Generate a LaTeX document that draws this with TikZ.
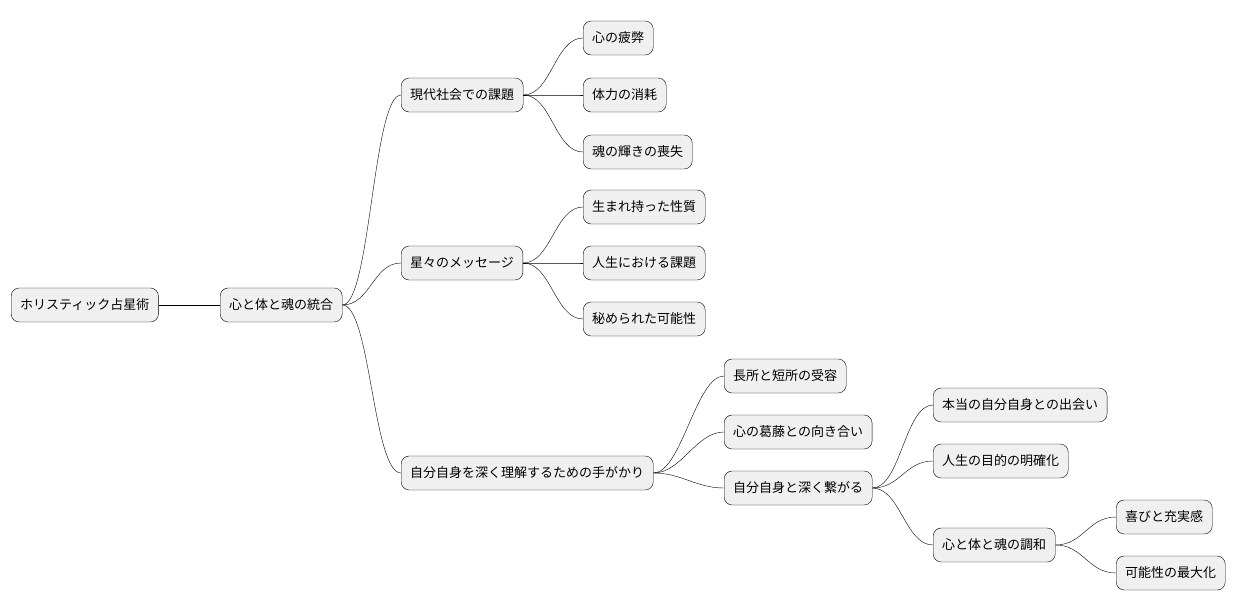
\documentclass[tikz,border=0pt]{standalone}
\usepackage{fontspec}
\setmainfont{Noto Sans CJK JP}
\tikzset{
	topic/.style={draw, rounded corners=8pt, fill=black!6, anchor=west, minimum height=34pt, inner xsep=9pt, font=\fontsize{13}{15}\selectfont},
	branch/.style={black, thin}
}
\begin{document}
\begin{tikzpicture}[x=1pt,y=-1pt]
	\useasboundingbox (0,0) rectangle (1244,612);
	% root and centre
	\node[topic] (root) at (11,305) {ホリスティック占星術};
	\node[topic] (core) at (220,305) {心と体と魂の統合};
	% first level
	\node[topic] (modern) at (401,95) {現代社会での課題};
	\node[topic] (stars) at (401,263) {星々のメッセージ};
	\node[topic] (self) at (401,473) {自分自身を深く理解するための手がかり};
	% modern
	\node[topic] (fatigue) at (583,38) {心の疲弊};
	\node[topic] (stamina) at (583,95) {体力の消耗};
	\node[topic] (soul) at (583,152) {魂の輝きの喪失};
	% stars
	\node[topic] (nature) at (583,207) {生まれ持った性質};
	\node[topic] (task) at (583,263) {人生における課題};
	\node[topic] (hidden) at (583,319) {秘められた可能性};
	% self
	\node[topic] (accept) at (724,376) {長所と短所の受容};
	\node[topic] (conflict) at (724,432) {心の葛藤との向き合い};
	\node[topic] (connect) at (724,488) {自分自身と深く繋がる};
	% connect
	\node[topic] (meet) at (933,405) {本当の自分自身との出会い};
	\node[topic] (purpose) at (933,461) {人生の目的の明確化};
	\node[topic] (harmony) at (933,545) {心と体と魂の調和};
	% harmony
	\node[topic] (joy) at (1116,517) {喜びと充実感};
	\node[topic] (max) at (1116,573) {可能性の最大化};

	\draw[branch] (root.east) -- (core.west);
	\foreach \a/\b in {core/modern, core/stars, core/self,
		modern/fatigue, modern/stamina, modern/soul,
		stars/nature, stars/task, stars/hidden,
		self/accept, self/conflict, self/connect,
		connect/meet, connect/purpose, connect/harmony,
		harmony/joy, harmony/max}
		\draw[branch] (\a.east) .. controls +(28,0) and +(-28,0) .. (\b.west);
\end{tikzpicture}
\end{document}
